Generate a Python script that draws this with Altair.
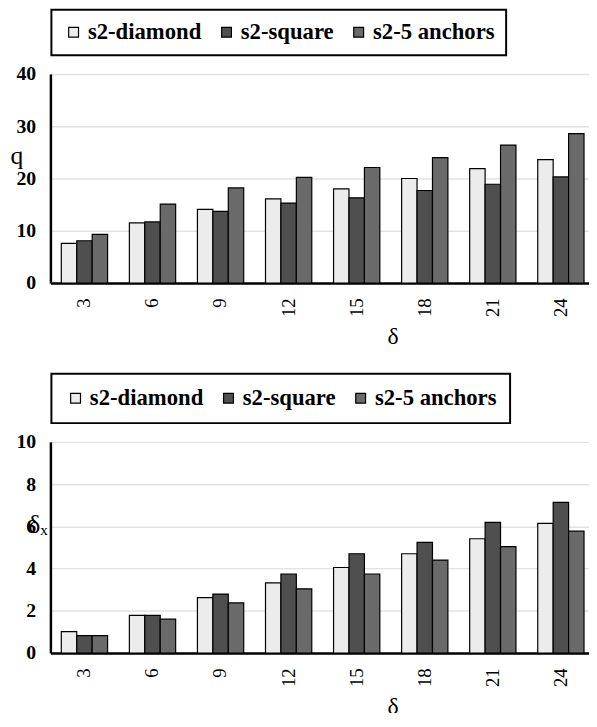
import altair as alt
import pandas as pd

categories = ["3", "6", "9", "12", "15", "18", "21", "24"]
series = ["s2-diamond", "s2-square", "s2-5 anchors"]

q_diamond = [7.6, 11.5, 14.1, 16.1, 18.0, 20.0, 21.9, 23.6]
q_square = [8.1, 11.7, 13.7, 15.3, 16.3, 17.7, 18.9, 20.3]
q_anchors = [9.3, 15.1, 18.2, 20.2, 22.1, 24.0, 26.4, 28.6]

dx_diamond = [1.01, 1.78, 2.62, 3.32, 4.05, 4.70, 5.41, 6.14]
dx_square = [0.82, 1.78, 2.79, 3.74, 4.70, 5.24, 6.19, 7.13]
dx_anchors = [0.82, 1.60, 2.37, 3.04, 3.74, 4.40, 5.04, 5.77]

q_ticks = [0, 10, 20, 30, 40]
dx_ticks = [0, 2, 4, 6, 8, 10]

fills = ["#ececec", "#4f4f4f", "#6a6a6a"]

SERIF = "Liberation Serif"


def make_df(a, b, c):
    rows = []
    for s, vals in zip(series, [a, b, c]):
        for cat, v in zip(categories, vals):
            rows.append({"cat": cat, "series": s, "value": v})
    return pd.DataFrame(rows)


def panel(df, ymax, ticks, ytitle, ytx, yty, legend_y, legend_pad, height):
    return alt.Chart(df).mark_bar(stroke="black", strokeWidth=1.2).encode(
        x=alt.X("cat:N", sort=categories,
                scale=alt.Scale(paddingInner=0.32, paddingOuter=0.16),
                axis=alt.Axis(title="δ", labelAngle=270, labelFont=SERIF,
                              labelFontSize=19, labelColor="black",
                              labelPadding=15, ticks=False, grid=False,
                              domainColor="black", domainWidth=2.5,
                              titleFont=SERIF, titleFontSize=24,
                              titleFontWeight="normal", titleColor="black",
                              titleX=347, titleY=61, titleAlign="center",
                              titleBaseline="alphabetic")),
        xOffset=alt.XOffset("series:N", sort=series,
                            scale=alt.Scale(domain=series, paddingInner=0, paddingOuter=0)),
        y=alt.Y("value:Q", scale=alt.Scale(domain=[0, ymax], nice=False),
                axis=alt.Axis(values=ticks, title=ytitle, titleAngle=0,
                              titleX=ytx, titleY=yty, titleAlign="left",
                              titleBaseline="alphabetic", titleFont=SERIF,
                              titleFontSize=26, titleFontWeight="normal",
                              titleColor="black",
                              labelFont=SERIF, labelFontSize=20,
                              labelFontWeight="bold", labelColor="black",
                              labelPadding=15, ticks=False,
                              grid=True, gridColor="#e2e2e2", gridWidth=1.5,
                              domainColor="black", domainWidth=2.5)),
        fill=alt.Fill("series:N", sort=series,
                      scale=alt.Scale(domain=series, range=fills),
                      legend=alt.Legend(title=None, orient="none",
                                        legendX=1, legendY=legend_y,
                                        direction="horizontal", columns=3,
                                        strokeColor="black", padding=legend_pad,
                                        labelFont=SERIF, labelFontSize=23,
                                        labelFontWeight="bold", labelColor="black",
                                        labelOffset=3, columnPadding=13,
                                        symbolType="square", symbolSize=100,
                                        symbolStrokeColor="black",
                                        symbolStrokeWidth=1.2)),
    ).properties(width=552, height=height)


top = panel(make_df(q_diamond, q_square, q_anchors), 40, q_ticks, "q",
            -41, 91, -65, 11, 212)
bottom = panel(make_df(dx_diamond, dx_square, dx_anchors), 10, dx_ticks, "δₓ",
               -23, 92, -69, 13, 214)

chart = alt.vconcat(top, bottom, spacing=25).resolve_scale(
    fill="independent"
).properties(
    padding={"left": 2, "top": -4, "right": -6, "bottom": -10}
).configure_view(stroke=None).configure_legend(
    strokeWidth=2, labelFont=SERIF, labelFontWeight="bold"
)

chart.save("out.html", embed_options={"renderer": "svg", "actions": False})
